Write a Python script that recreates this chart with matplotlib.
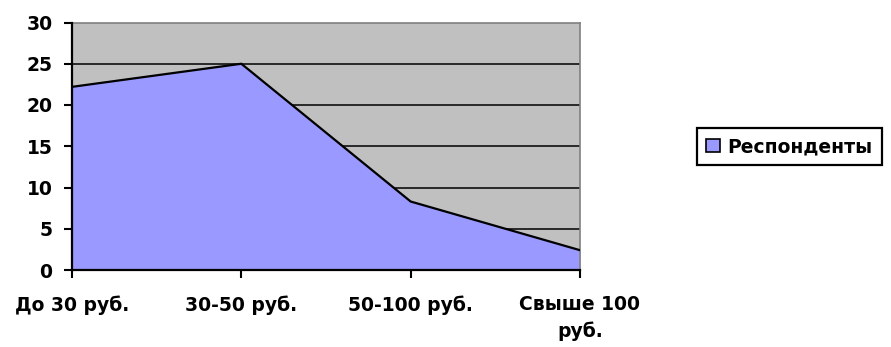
import numpy as np
import matplotlib.pyplot as plt
from matplotlib.patches import Patch

# data
categories = ['До 30 руб.', '30-50 руб.', '50-100 руб.', 'Свыше 100\nруб.']
respondents = [22.2, 25.0, 8.3, 2.4]
yticks = [0, 5, 10, 15, 20, 25, 30]

plt.rcParams['font.family'] = ['DejaVu Sans']
plt.rcParams['font.weight'] = 'bold'
fs = 13.5

fig = plt.figure(figsize=(8.91, 3.47), dpi=100)
ax = fig.add_axes([72 / 891, 1 - 270 / 347, (580 - 72) / 891, (270 - 22.5) / 347])

x = np.arange(len(categories))
ax.set_facecolor('#C0C0C0')
for y in yticks[1:-1]:
    ax.axhline(y, color='black', lw=1.1, zorder=1)
ax.fill_between(x, respondents, 0, color='#9999FF', lw=0, zorder=2)
ax.plot(x, respondents, color='black', lw=1.6, zorder=3)

ax.set_xlim(0, len(categories) - 1)
ax.set_ylim(0, 30)
ax.set_xticks(x)
ax.set_xticklabels(categories, fontsize=fs, fontweight='bold', linespacing=1.5)
ax.set_yticks(yticks)
ax.set_yticklabels([str(v) for v in yticks], fontsize=fs, fontweight='bold')
ax.tick_params(axis='y', length=6, width=1.5, pad=8, direction='out')
ax.tick_params(axis='x', length=6, width=1.5, pad=12, direction='out')

for side in ['left', 'bottom']:
    ax.spines[side].set_color('black')
    ax.spines[side].set_linewidth(1.6)
    ax.spines[side].set_zorder(4)
for side in ['top', 'right']:
    ax.spines[side].set_color('#808080')
    ax.spines[side].set_linewidth(1.2)

handle = Patch(facecolor='#9999FF', edgecolor='black', lw=1.2)
leg = fig.legend([handle], ['Респонденты'], loc='center left',
                 bbox_to_anchor=(697 / 891, 1 - 146.5 / 347), frameon=True,
                 fancybox=False, edgecolor='black', framealpha=1,
                 prop={'size': fs, 'weight': 'bold'},
                 handlelength=0.75, handleheight=0.75, handletextpad=0.35,
                 borderpad=0.5, borderaxespad=0)
leg.get_frame().set_linewidth(1.6)

fig.savefig('out.png', dpi=100)
